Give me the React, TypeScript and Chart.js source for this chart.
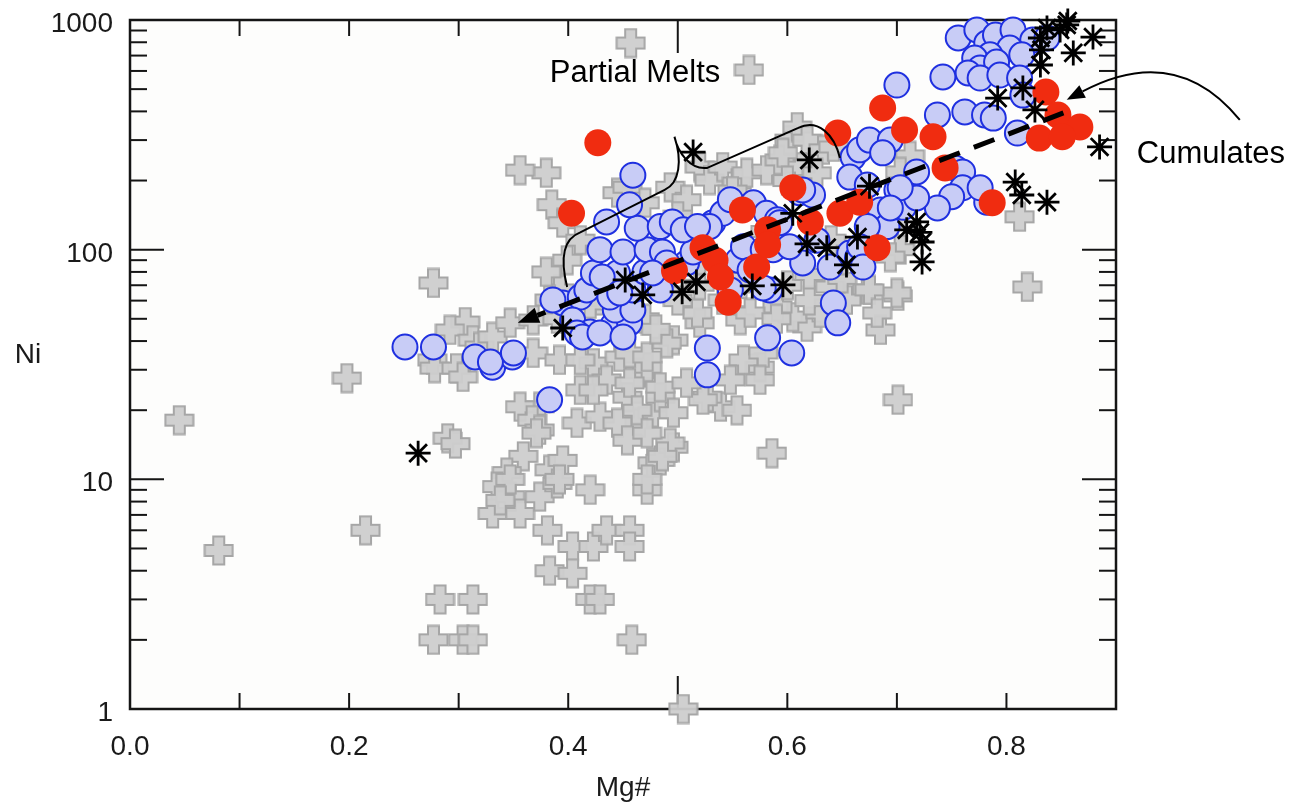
import React, { useEffect, useRef } from "react";
import { Chart, registerables } from "chart.js";

Chart.register(...registerables);

// ---------- data (Mg#, Ni) ----------
const xLabelValues = [0, 0.2, 0.4, 0.6, 0.8];
const xTickLabels = ["0.0", "0.2", "0.4", "0.6", "0.8"];
const xTickMarks = [0.1, 0.2, 0.3, 0.4, 0.5, 0.6, 0.7, 0.8];
const xLongTick = 0.5;
const yTickValues = [1, 10, 100, 1000];
const yTickLabels = ["1", "10", "100", "1000"];
const yMinorTicks = [2, 3, 4, 5, 6, 7, 8, 9, 20, 30, 40, 50, 60, 70, 80, 90, 200, 300, 400, 500, 600, 700, 800, 900];

const grayCrosses: [number, number][] = [
  [0.045, 18.1], [0.081, 4.9], [0.215, 6.0], [0.198, 27.6], [0.277, 71.6], [0.276, 33.1], [0.278, 30.5], [0.29, 15.1], [0.297, 14.3],
  [0.283, 3.0], [0.313, 3.0], [0.277, 2.0], [0.304, 2.0], [0.313, 2.0], [0.458, 2.0], [0.505, 1.0], [0.457, 794], [0.565, 606],
  [0.38, 216], [0.356, 222], [0.812, 139], [0.819, 68.8], [0.701, 62.9], [0.685, 44.7], [0.701, 22.2], [0.586, 13.0], [0.703, 100],
  [0.696, 132], [0.712, 256], [0.703, 218], [0.673, 66.8],
  [0.306, 48.4], [0.292, 44.7], [0.313, 40.4], [0.298, 30.5], [0.304, 27.9], [0.319, 37.7], [0.368, 35.5], [0.392, 33.1], [0.374, 20.7],
  [0.356, 20.7], [0.367, 18.1], [0.374, 16.4], [0.359, 12.6], [0.344, 10.7], [0.335, 9.3], [0.331, 7.1], [0.347, 8.4], [0.356, 7.1],
  [0.374, 8.4], [0.383, 11.0], [0.395, 12.1], [0.39, 9.6], [0.381, 6.0], [0.42, 9.0], [0.404, 5.1], [0.423, 5.1], [0.435, 6.0],
  [0.456, 6.0], [0.456, 5.1], [0.383, 4.0], [0.404, 3.9], [0.42, 3.0], [0.429, 3.0], [0.472, 9.0], [0.477, 11.8], [0.423, 32.1],
  [0.435, 27.1], [0.454, 22.8], [0.465, 17.6], [0.477, 19.5], [0.408, 17.6], [0.429, 18.7], [0.445, 17.6], [0.411, 24.5], [0.465, 29.1],
  [0.447, 34.1], [0.371, 15.9], [0.392, 10.0], [0.347, 10.0], [0.338, 8.1], [0.484, 12.1], [0.496, 13.8], [0.539, 20.7], [0.554, 20.0],
  [0.527, 22.8], [0.423, 24.5], [0.484, 22.8], [0.523, 22.2], [0.493, 14.4], [0.486, 12.6], [0.472, 10.0], [0.575, 30.8], [0.56, 33.1],
  [0.578, 35.5], [0.618, 46.1], [0.605, 50.9], [0.63, 53.0], [0.557, 49.4], [0.52, 48.0], [0.496, 40.4], [0.472, 30.8], [0.456, 26.3],
  [0.484, 25.2], [0.508, 26.3], [0.548, 27.1], [0.463, 20.0], [0.496, 19.5], [0.454, 14.8], [0.472, 15.9], [0.575, 27.1], [0.654, 60.4],
  [0.411, 33.1], [0.456, 35.5], [0.472, 34.1], [0.49, 39.2], [0.331, 41.7], [0.347, 48.0], [0.368, 49.4],
  [0.385, 157], [0.395, 131], [0.411, 110], [0.399, 90], [0.392, 66.8], [0.383, 60.4], [0.445, 177], [0.454, 187], [0.493, 187],
  [0.508, 165], [0.52, 229], [0.529, 201], [0.541, 229], [0.554, 195], [0.563, 216], [0.581, 222], [0.593, 246], [0.602, 300],
  [0.609, 342], [0.618, 300], [0.633, 272], [0.612, 229], [0.627, 216], [0.642, 280], [0.596, 264], [0.694, 92.9], [0.7, 64.8],
  [0.675, 66.8], [0.639, 68.8], [0.682, 53.0], [0.591, 56.3], [0.518, 53.0], [0.566, 53.0], [0.541, 60.4],
  [0.43, 60], [0.47, 50], [0.5, 60], [0.52, 70], [0.55, 65], [0.6, 70], [0.62, 60], [0.59, 50], [0.48, 45], [0.45, 55], [0.42, 58],
  [0.39, 50], [0.38, 80], [0.52, 90], [0.56, 75], [0.62, 78], [0.65, 75], [0.65, 90], [0.64, 110], [0.58, 120], [0.5, 140], [0.47, 160],
  [0.55, 180], [0.6, 200],
];

const blueCircles: [number, number][] = [
  [0.251, 37.7], [0.277, 37.7], [0.315, 34.1], [0.331, 30.8], [0.349, 34.1], [0.383, 22.2],
  [0.329, 32.4], [0.35, 35.5], [0.395, 58.6], [0.386, 60.4], [0.411, 62.2], [0.404, 49.4], [0.42, 43.8], [0.408, 43.4], [0.441, 47.0],
  [0.456, 48.0], [0.443, 54.6], [0.459, 54.6], [0.417, 66.8], [0.438, 62.2], [0.459, 66.8], [0.484, 66.8], [0.423, 79.2], [0.445, 79.2],
  [0.47, 80.0], [0.484, 84], [0.508, 87.5], [0.429, 100], [0.45, 97.7], [0.472, 100], [0.486, 97.7], [0.435, 132], [0.463, 124],
  [0.484, 126], [0.495, 132], [0.514, 119], [0.456, 157], [0.459, 211], [0.413, 41.7], [0.429, 43.4], [0.45, 41.7], [0.431, 76],
  [0.447, 64.8], [0.49, 87.5], [0.477, 79.2], [0.514, 97.7], [0.505, 122],
  [0.532, 131], [0.541, 144], [0.548, 165], [0.569, 160], [0.581, 144], [0.591, 135], [0.611, 177], [0.623, 173], [0.529, 126],
  [0.518, 126], [0.555, 90], [0.56, 103], [0.578, 100], [0.587, 100], [0.614, 87.5], [0.639, 84], [0.584, 66.8], [0.548, 66.8],
  [0.566, 81.6], [0.578, 68.1], [0.602, 103], [0.593, 131], [0.614, 182], [0.627, 110], [0.527, 37.3], [0.527, 28.5], [0.582, 41.3],
  [0.604, 35.5], [0.642, 58.6], [0.646, 48.0],
  [0.66, 253], [0.666, 272], [0.657, 207], [0.675, 300], [0.694, 300], [0.687, 264], [0.673, 191], [0.7, 182], [0.706, 153],
  [0.685, 149], [0.691, 126], [0.673, 126], [0.657, 96.7], [0.664, 92], [0.666, 103], [0.669, 84], [0.7, 521], [0.718, 218],
  [0.753, 227], [0.76, 218], [0.76, 186], [0.75, 170], [0.737, 152], [0.718, 168], [0.703, 186], [0.694, 152], [0.782, 161], [0.776, 186],
  [0.756, 835], [0.773, 905], [0.782, 794], [0.79, 860], [0.806, 905], [0.824, 818], [0.803, 755], [0.785, 705], [0.771, 683],
  [0.776, 618], [0.791, 656], [0.814, 705], [0.742, 565], [0.765, 588], [0.776, 559], [0.794, 576], [0.812, 559], [0.815, 471],
  [0.762, 398], [0.737, 386], [0.78, 386], [0.788, 374], [0.81, 322], [0.837, 835],
];

const redCircles: [number, number][] = [
  [0.427, 292], [0.403, 144], [0.497, 81], [0.523, 102], [0.534, 90], [0.539, 76], [0.546, 59], [0.559, 149], [0.572, 84],
  [0.582, 122], [0.582, 105], [0.605, 186], [0.621, 132], [0.646, 322], [0.648, 144], [0.666, 161], [0.682, 102], [0.687, 414],
  [0.707, 332], [0.733, 310], [0.744, 227], [0.787, 160], [0.836, 486], [0.847, 386], [0.867, 342], [0.83, 306], [0.851, 310],
];

const blackStars: [number, number][] = [
  [0.263, 13.0], [0.395, 45.6], [0.452, 73.8], [0.468, 63.5], [0.504, 65.5], [0.517, 72.3], [0.568, 69.5], [0.596, 70.3],
  [0.514, 266], [0.62, 246], [0.605, 144], [0.618, 106], [0.636, 102], [0.654, 85.8], [0.664, 113.5], [0.675, 189],
  [0.709, 122], [0.718, 132], [0.721, 119], [0.723, 108], [0.723, 88.4], [0.808, 197], [0.814, 173], [0.837, 161],
  [0.792, 457], [0.815, 506], [0.826, 406], [0.885, 280], [0.831, 637], [0.832, 741], [0.831, 835], [0.855, 952],
  [0.856, 990], [0.879, 843], [0.861, 719], [0.837, 923], [0.849, 905],
];

// annotation geometry in data units
const trendStart = [0.852, 394];
const trendEnd = [0.354, 48];
const cumArrow = { from: [1.013, 367], ctrl: [0.955, 802], to: [0.855, 449] };
const braceA = [0.399, 68.8];
const braceA1 = [0.394, 85.8];
const braceA2 = [0.392, 110];
const braceB = [0.411, 119];
const braceC = [0.488, 182];
const braceC1 = [0.502, 195];
const braceC2 = [0.504, 246];
const braceD = [0.497, 310];
const braceD1 = [0.5, 266];
const braceD2 = [0.511, 222];
const braceE = [0.527, 227];
const braceF = [0.61, 339];
const braceF1 = [0.628, 374];
const braceF2 = [0.643, 316];
const braceG = [0.648, 251];
const partialMeltsPos = [0.461, 537];
const cumulatesPos = [0.919, 238];

const FONT = "'Liberation Sans', Arial, Helvetica, sans-serif";

function makeCross(): HTMLCanvasElement {
  const c = document.createElement("canvas");
  const S = 28, t = 11, m = 1.5;
  c.width = S + 2 * m;
  c.height = S + 2 * m;
  const g = c.getContext("2d")!;
  const o = (S - t) / 2;
  const pts = [
    [o, 0], [o + t, 0], [o + t, o], [S, o], [S, o + t], [o + t, o + t], [o + t, S], [o, S], [o, o + t], [0, o + t], [0, o], [o, o],
  ];
  g.translate(m, m);
  g.beginPath();
  pts.forEach(([x, y], i) => (i ? g.lineTo(x, y) : g.moveTo(x, y)));
  g.closePath();
  g.fillStyle = "rgba(206,206,206,0.95)";
  g.fill();
  g.strokeStyle = "#a6a6a6";
  g.lineWidth = 2;
  g.stroke();
  return c;
}

const framePlugin = {
  id: "framePlugin",
  beforeDatasetsDraw(chart: any) {
    const { ctx, chartArea: a, scales } = chart;
    const x = scales.x, y = scales.y;
    ctx.save();
    ctx.fillStyle = "#fdfdfc";
    ctx.fillRect(a.left, a.top, a.right - a.left, a.bottom - a.top);
    ctx.strokeStyle = "#151515";
    ctx.lineWidth = 2;
    const line = (x1: number, y1: number, x2: number, y2: number) => {
      ctx.beginPath();
      ctx.moveTo(x1, y1);
      ctx.lineTo(x2, y2);
      ctx.stroke();
    };
    xTickMarks.forEach((v) => {
      const px = x.getPixelForValue(v);
      const len = Math.abs(v - xLongTick) < 1e-9 ? 33 : 16;
      line(px, a.bottom, px, a.bottom - len);
      line(px, a.top, px, a.top + len);
    });
    yTickValues.forEach((v) => {
      const py = y.getPixelForValue(v);
      line(a.left, py, a.left + 34, py);
      line(a.right, py, a.right - 34, py);
    });
    yMinorTicks.forEach((v) => {
      const py = y.getPixelForValue(v);
      line(a.left, py, a.left + 17, py);
      line(a.right, py, a.right - 17, py);
    });
    ctx.lineWidth = 2.5;
    ctx.strokeRect(a.left, a.top, a.right - a.left, a.bottom - a.top);
    ctx.restore();
  },
  afterDatasetsDraw(chart: any) {
    const { ctx, chartArea: a, scales } = chart;
    const x = scales.x, y = scales.y;
    const P = (p: number[]) => [x.getPixelForValue(p[0]), y.getPixelForValue(p[1])];
    ctx.save();

    // dashed trend arrow
    const [sx, sy] = P(trendStart);
    const [ex, ey] = P(trendEnd);
    const ang = Math.atan2(ey - sy, ex - sx);
    const headL = 21, headW = 8;
    const bx = ex - headL * Math.cos(ang), by = ey - headL * Math.sin(ang);
    ctx.strokeStyle = "#000";
    ctx.lineWidth = 5;
    ctx.setLineDash([22, 15]);
    ctx.beginPath();
    ctx.moveTo(sx, sy);
    ctx.lineTo(bx, by);
    ctx.stroke();
    ctx.setLineDash([]);
    ctx.fillStyle = "#000";
    ctx.beginPath();
    ctx.moveTo(ex, ey);
    ctx.lineTo(bx + headW * Math.sin(ang), by - headW * Math.cos(ang));
    ctx.lineTo(bx - headW * Math.sin(ang), by + headW * Math.cos(ang));
    ctx.closePath();
    ctx.fill();

    // curved "Cumulates" arrow
    const [f0x, f0y] = P(cumArrow.from);
    const [ccx, ccy] = P(cumArrow.ctrl);
    const [tx, ty] = P(cumArrow.to);
    const a2 = Math.atan2(ty - ccy, tx - ccx);
    const hl = 18, hw = 7;
    const b2x = tx - hl * Math.cos(a2), b2y = ty - hl * Math.sin(a2);
    ctx.lineWidth = 2;
    ctx.beginPath();
    ctx.moveTo(f0x, f0y);
    ctx.quadraticCurveTo(ccx, ccy, b2x, b2y);
    ctx.stroke();
    ctx.beginPath();
    ctx.moveTo(tx, ty);
    ctx.lineTo(b2x + hw * Math.sin(a2), b2y - hw * Math.cos(a2));
    ctx.lineTo(b2x - hw * Math.sin(a2), b2y + hw * Math.cos(a2));
    ctx.closePath();
    ctx.fill();

    // curly brace
    ctx.lineWidth = 2;
    ctx.beginPath();
    ctx.moveTo(...(P(braceA) as [number, number]));
    ctx.bezierCurveTo(...(P(braceA1) as [number, number]), ...(P(braceA2) as [number, number]), ...(P(braceB) as [number, number]));
    ctx.lineTo(...(P(braceC) as [number, number]));
    ctx.bezierCurveTo(...(P(braceC1) as [number, number]), ...(P(braceC2) as [number, number]), ...(P(braceD) as [number, number]));
    ctx.bezierCurveTo(...(P(braceD1) as [number, number]), ...(P(braceD2) as [number, number]), ...(P(braceE) as [number, number]));
    ctx.lineTo(...(P(braceF) as [number, number]));
    ctx.bezierCurveTo(...(P(braceF1) as [number, number]), ...(P(braceF2) as [number, number]), ...(P(braceG) as [number, number]));
    ctx.stroke();

    // annotation texts
    ctx.fillStyle = "#000";
    ctx.font = `31px ${FONT}`;
    ctx.textBaseline = "alphabetic";
    ctx.textAlign = "center";
    const [pmx, pmy] = P(partialMeltsPos);
    ctx.fillText("Partial Melts", pmx, pmy);
    ctx.textAlign = "left";
    const [cux, cuy] = P(cumulatesPos);
    ctx.fillText("Cumulates", cux, cuy);

    // tick labels
    ctx.font = `28px ${FONT}`;
    ctx.fillStyle = "#1a1a1a";
    ctx.textAlign = "right";
    yTickValues.forEach((v, i) => {
      ctx.fillText(yTickLabels[i], a.left - 17, y.getPixelForValue(v) + 12);
    });
    ctx.textAlign = "center";
    xLabelValues.forEach((v, i) => {
      ctx.fillText(xTickLabels[i], x.getPixelForValue(v), a.bottom + 46);
    });

    // axis titles
    ctx.fillText("Mg#", (a.left + a.right) / 2, a.bottom + 87);
    ctx.fillText("Ni", 28, 363);
    ctx.restore();
  },
};

export default function App() {
  const ref = useRef<HTMLCanvasElement>(null);
  useEffect(() => {
    if (!ref.current) return;
    const cross = makeCross();
    const pts = (arr: [number, number][]) => arr.map(([x, y]) => ({ x, y }));
    const chart = new Chart(ref.current, {
      type: "scatter",
      data: {
        datasets: [
          {
            label: "stars",
            data: pts(blackStars),
            pointStyle: "star",
            pointRadius: 12.5,
            borderColor: "#000",
            backgroundColor: "#000",
            borderWidth: 2.8,
            clip: false,
          },
          {
            label: "red",
            data: pts(redCircles),
            pointStyle: "circle",
            pointRadius: 13.5,
            backgroundColor: "#f02c10",
            borderColor: "#f02c10",
            borderWidth: 0,
            clip: false,
          },
          {
            label: "blue",
            data: pts(blueCircles),
            pointStyle: "circle",
            pointRadius: 12.5,
            backgroundColor: "#c8ccf6",
            borderColor: "#1f30e0",
            borderWidth: 2,
            clip: false,
          },
          {
            label: "gray",
            data: pts(grayCrosses),
            pointStyle: cross,
            pointRadius: 14,
            backgroundColor: "#cecece",
            borderColor: "#a6a6a6",
            clip: false,
          },
        ] as any,
      },
      options: {
        animation: false,
        responsive: false,
        events: [],
        layout: { padding: { left: 130, right: 196, top: 20, bottom: 101 } },
        plugins: { legend: { display: false }, tooltip: { enabled: false } },
        scales: {
          x: { type: "linear", min: 0, max: 0.9, display: false },
          y: { type: "logarithmic", min: 1, max: 1000, display: false },
        },
      },
      plugins: [framePlugin],
    });
    return () => chart.destroy();
  }, []);
  return (
    <div style={{ position: "absolute", left: 0, top: 0, width: 1312, height: 810, background: "#fff" }}>
      <canvas ref={ref} width={1312} height={810} style={{ width: 1312, height: 810, display: "block" }} />
    </div>
  );
}
